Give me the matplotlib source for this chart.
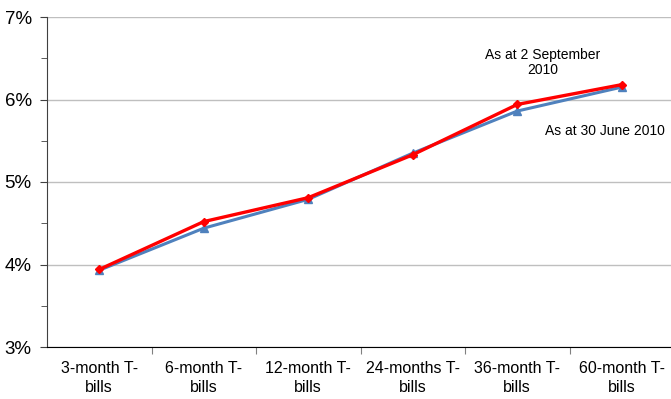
import matplotlib
matplotlib.use("Agg")
import matplotlib.pyplot as plt
from matplotlib.ticker import MultipleLocator, FuncFormatter

categories = ["3-month T-\nbills", "6-month T-\nbills", "12-month T-\nbills",
              "24-months T-\nbills", "36-month T-\nbills", "60-month T-\nbills"]
june_2010 = [3.93, 4.44, 4.79, 5.35, 5.86, 6.15]
sept_2010 = [3.94, 4.52, 4.81, 5.33, 5.94, 6.18]

plt.rcParams['font.family'] = ['Liberation Sans', 'DejaVu Sans']

fig = plt.figure(figsize=(6.71, 3.99), dpi=100)
ax = fig.add_axes([47 / 671, 1 - 347 / 399, (674 - 47) / 671, (347 - 17) / 399])

x = list(range(len(categories)))
ax.plot(x, june_2010, color="#4F81BD", lw=2.2, marker="^", ms=6, zorder=3)
ax.plot(x, sept_2010, color="#FF0000", lw=2.4, marker="D", ms=4.5, zorder=4)

ax.set_xlim(-0.5, len(categories) - 0.5)
ax.set_ylim(3, 7)
ax.yaxis.set_major_locator(MultipleLocator(1))
ax.yaxis.set_minor_locator(MultipleLocator(0.5))
ax.yaxis.set_major_formatter(FuncFormatter(lambda v, p: f"{v:.0f}%"))
ax.grid(axis="y", which="major", color="#BFBFBF", lw=1)
ax.set_axisbelow(True)

ax.set_xticks([i + 0.5 for i in x[:-1]])
ax.set_xticklabels([])
ax.set_xticks(x, minor=True)
ax.set_xticklabels(categories, minor=True, fontsize=11.5, linespacing=1.35)
ax.tick_params(axis="x", which="minor", length=0, pad=10)
ax.tick_params(axis="x", which="major", length=5, color="#808080")
ax.tick_params(axis="y", which="major", length=5, labelsize=13.5, pad=6, color="#404040")
ax.tick_params(axis="y", which="minor", length=4, color="#404040")

ax.spines["right"].set_visible(False)
ax.spines["top"].set_visible(False)
ax.spines["left"].set_color("#404040")
ax.spines["bottom"].set_color("#000000")

ax.text(4.24, 6.45, "As at 2 September\n2010", ha="center", va="center",
        fontsize=10, linespacing=1.15)
ax.text(4.27, 5.62, "As at 30 June 2010", ha="left", va="center", fontsize=10)

fig.savefig("out.png", dpi=100)
